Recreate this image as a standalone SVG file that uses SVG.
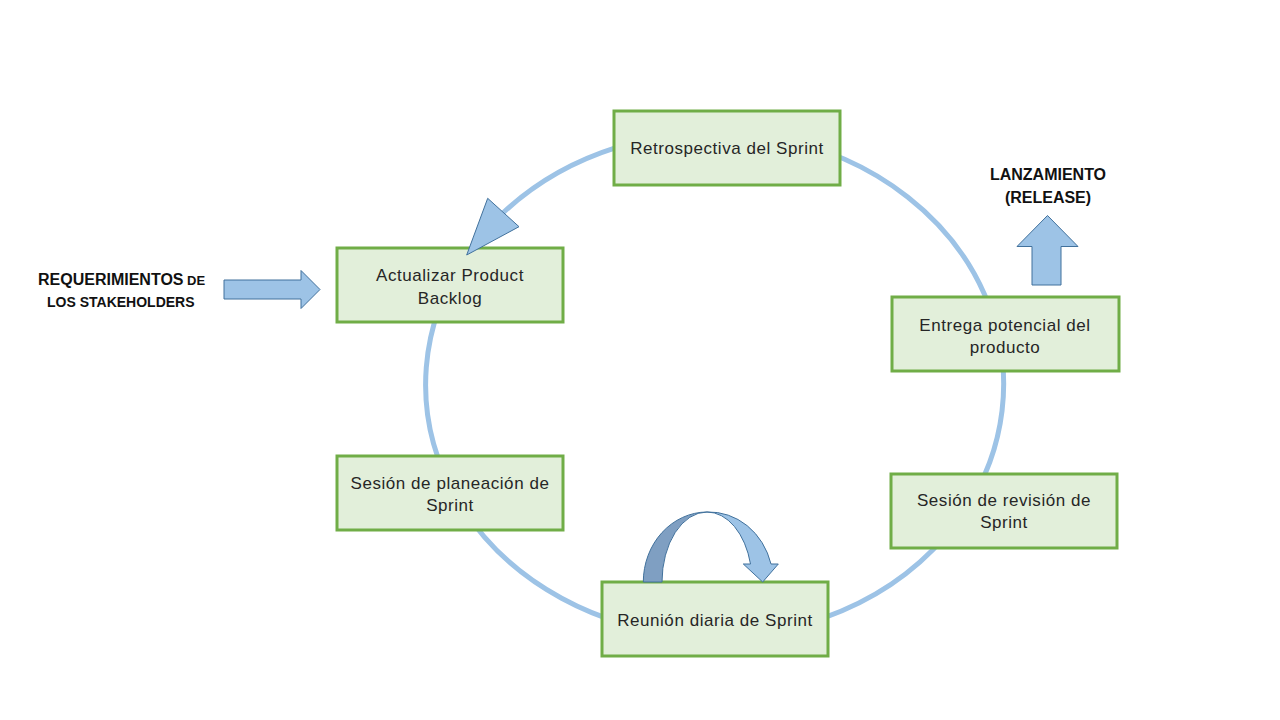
<svg xmlns="http://www.w3.org/2000/svg" width="1280" height="720" viewBox="0 0 1280 720">
<style>
.box{fill:#e2efda;stroke:#70ad47;stroke-width:3}
.t{font-family:"Liberation Sans",Arial,sans-serif;font-size:17px;fill:#262626;text-anchor:middle;letter-spacing:0.55px}
.b{font-family:"Liberation Sans",Arial,sans-serif;font-weight:bold;fill:#111}
.arr{fill:#9dc3e6;stroke:#41719c;stroke-width:1}
</style>
<rect width="1280" height="720" fill="#fff"/>
<g id="cycle">
<path d="M503.4 212.5 A289 252 0 1 1 466.7 255" fill="none" stroke="#9dc3e6" stroke-width="5"/>
</g>
<g id="retro"><rect class="box" x="614" y="111" width="226" height="74"/><text class="t" x="727" y="154">Retrospectiva del Sprint</text></g>
<g id="actualizar"><rect class="box" x="337" y="248" width="226" height="74"/><text class="t" x="450" y="281">Actualizar Product</text><text class="t" x="450" y="304">Backlog</text></g>
<g id="entrega"><rect class="box" x="892" y="297" width="227" height="74"/><text class="t" x="1005" y="331">Entrega potencial del</text><text class="t" x="1005" y="353">producto</text></g>
<g id="revision"><rect class="box" x="891" y="474" width="226" height="74"/><text class="t" x="1004" y="506">Sesión de revisión de</text><text class="t" x="1004" y="528">Sprint</text></g>
<g id="reunion"><rect class="box" x="602" y="582" width="226" height="74"/><text class="t" x="715" y="626">Reunión diaria de Sprint</text></g>
<g id="planeacion"><rect class="box" x="337" y="456" width="226" height="74"/><text class="t" x="450" y="489">Sesión de planeación de</text><text class="t" x="450" y="511">Sprint</text></g>
<g id="connectors">
<polygon class="arr" points="487.7,198.3 519,226.7 466.7,255"/>
<polygon class="arr" points="224,280 301,280 301,270.5 320,289.5 301,308.5 301,299 224,299"/>
<polygon class="arr" points="1047.5,215.5 1078,246.5 1061,246.5 1061,285 1032,285 1032,246.5 1017,246.5"/>
<path d="M643.3 582 A64 70 0 0 1 707 512 A45 70 0 0 0 662 582 Z" fill="#7f9fc2" stroke="#41719c" stroke-width="1"/>
<path d="M707 512 A64 70 0 0 1 771 564 L778.3 564 L762.7 582 L743.3 564 L750.5 564 A45 70 0 0 0 707 512 Z" fill="#9dc3e6" stroke="#41719c" stroke-width="1"/>
</g>
<g id="requerimientos"><text class="b" x="38" y="285" font-size="16">REQUERIMIENTOS<tspan font-size="13"> DE</tspan></text><text class="b" x="47" y="307" font-size="14">LOS STAKEHOLDERS</text></g>
<g id="lanzamiento"><text class="b" x="1048" y="180" font-size="16" text-anchor="middle">LANZAMIENTO</text><text class="b" x="1048" y="203" font-size="16" text-anchor="middle">(RELEASE)</text></g>
</svg>
